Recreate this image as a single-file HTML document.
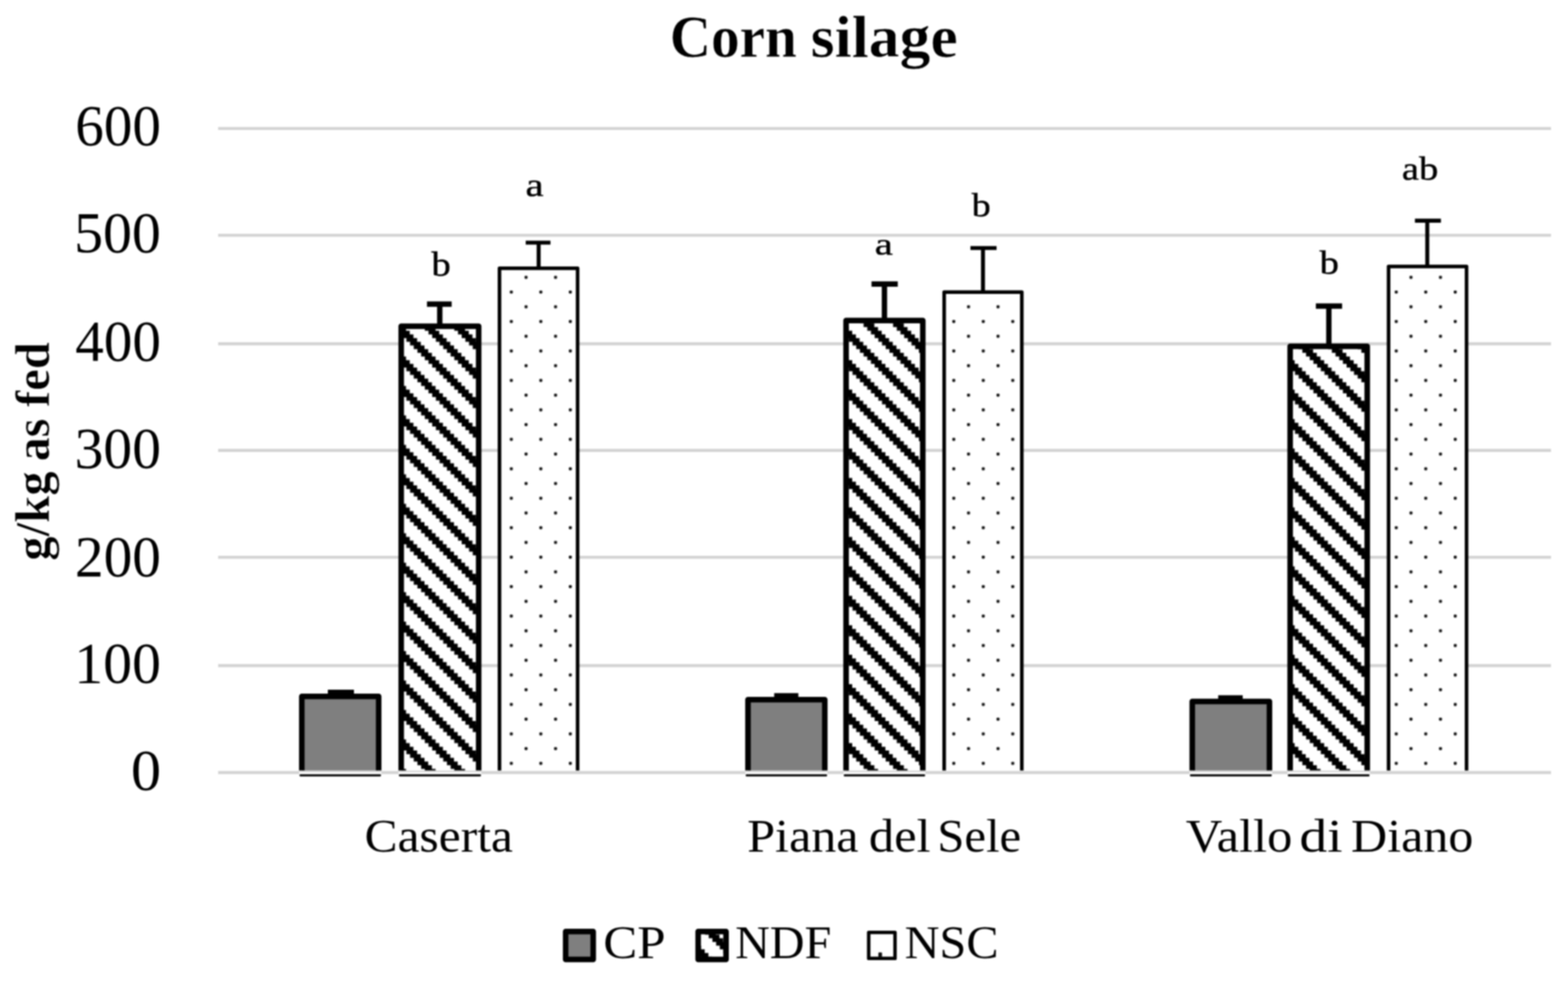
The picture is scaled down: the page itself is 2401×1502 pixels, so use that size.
<!DOCTYPE html>
<html lang="en">
<head>
<meta charset="utf-8">
<title>Corn silage</title>
<style>
html,body{margin:0;padding:0;background:#fff;}
body{width:2401px;height:1502px;overflow:hidden;}
svg{display:block;font-family:"Liberation Serif","DejaVu Serif",serif;}
text{fill:#000;}
</style>
</head>
<body>
<svg width="2401" height="1502" viewBox="0 0 2401 1502">
<defs>
<filter id="soft" x="0" y="0" width="2401" height="1502" filterUnits="userSpaceOnUse" color-interpolation-filters="sRGB"><feGaussianBlur stdDeviation="0.9"/></filter>

<pattern id="pStripe" patternUnits="userSpaceOnUse" x="0.97" y="-0.99" width="45.168" height="45.100"><rect width="45.168" height="45.100" fill="#fff"/><g fill="#000"><polygon points="22.33,-5.64 22.33,0.00 27.98,0.00 27.98,5.64 33.63,5.64 33.63,11.28 39.27,11.28 39.27,16.91 44.92,16.91 44.92,22.55 50.56,22.55 50.56,28.19 56.21,28.19 56.21,33.83 61.86,33.83 61.86,39.46 67.50,39.46 67.50,45.10 73.15,45.10 73.15,50.74 56.71,50.74 56.71,45.10 51.06,45.10 51.06,39.46 45.42,39.46 45.42,33.83 39.77,33.83 39.77,28.19 34.13,28.19 34.13,22.55 28.48,22.55 28.48,16.91 22.83,16.91 22.83,11.28 17.19,11.28 17.19,5.64 11.54,5.64 11.54,0.00 5.90,0.00 5.90,-5.64"/><polygon points="-22.83,-5.64 -22.83,0.00 -17.19,0.00 -17.19,5.64 -11.54,5.64 -11.54,11.28 -5.90,11.28 -5.90,16.91 -0.25,16.91 -0.25,22.55 5.40,22.55 5.40,28.19 11.04,28.19 11.04,33.83 16.69,33.83 16.69,39.46 22.33,39.46 22.33,45.10 27.98,45.10 27.98,50.74 11.54,50.74 11.54,45.10 5.90,45.10 5.90,39.46 0.25,39.46 0.25,33.83 -5.40,33.83 -5.40,28.19 -11.04,28.19 -11.04,22.55 -16.69,22.55 -16.69,16.91 -22.33,16.91 -22.33,11.28 -27.98,11.28 -27.98,5.64 -33.63,5.64 -33.63,0.00 -39.27,0.00 -39.27,-5.64"/><polygon points="67.50,-5.64 67.50,0.00 73.15,0.00 73.15,5.64 78.79,5.64 78.79,11.28 84.44,11.28 84.44,16.91 90.09,16.91 90.09,22.55 95.73,22.55 95.73,28.19 101.38,28.19 101.38,33.83 107.02,33.83 107.02,39.46 112.67,39.46 112.67,45.10 118.32,45.10 118.32,50.74 101.88,50.74 101.88,45.10 96.23,45.10 96.23,39.46 90.59,39.46 90.59,33.83 84.94,33.83 84.94,28.19 79.29,28.19 79.29,22.55 73.65,22.55 73.65,16.91 68.00,16.91 68.00,11.28 62.36,11.28 62.36,5.64 56.71,5.64 56.71,0.00 51.06,0.00 51.06,-5.64"/></g></pattern>
<pattern id="pDot" patternUnits="userSpaceOnUse" x="0.97" y="-0.99" width="45.168" height="45.100"><rect width="45.168" height="45.100" fill="#fff"/><g fill="#111"><rect x="11.815" y="39.981" width="4.6" height="4.6" rx="1.4"/><rect x="34.399" y="17.431" width="4.6" height="4.6" rx="1.4"/></g></pattern>
</defs>
<rect width="100%" height="100%" fill="#fff"/>
<g filter="url(#soft)">
<g stroke="#d3d3d3" stroke-width="4.6" fill="none">
<line x1="334" y1="196.7" x2="2375" y2="196.7"/>
<line x1="334" y1="360.3" x2="2375" y2="360.3"/>
<line x1="334" y1="526.4" x2="2375" y2="526.4"/>
<line x1="334" y1="689.6" x2="2375" y2="689.6"/>
<line x1="334" y1="853.3" x2="2375" y2="853.3"/>
<line x1="334" y1="1019.1" x2="2375" y2="1019.1"/>
</g>
<g stroke="#000" stroke-linejoin="round" stroke-linecap="butt">
<rect x="462.15" y="1066.25" width="117.70" height="113.55" fill="#7f7f7f" stroke="none"/>
<path d="M462.15 1179.80V1066.25H579.85V1179.80" fill="none" stroke-width="8.5"/>
<rect x="614.35" y="499.55" width="118.60" height="680.25" fill="url(#pStripe)" stroke="none"/>
<path d="M614.35 1179.80V499.55H732.95V1179.80" fill="none" stroke-width="8.5"/>
<rect x="764.85" y="410.65" width="119.60" height="769.15" fill="url(#pDot)" stroke="none"/>
<path d="M764.85 1179.80V410.65H884.45V1179.80" fill="none" stroke-width="5.5"/>
<rect x="1145.35" y="1071.35" width="117.60" height="108.45" fill="#7f7f7f" stroke="none"/>
<path d="M1145.35 1179.80V1071.35H1262.95V1179.80" fill="none" stroke-width="8.5"/>
<rect x="1295.55" y="490.85" width="117.50" height="688.95" fill="url(#pStripe)" stroke="none"/>
<path d="M1295.55 1179.80V490.85H1413.05V1179.80" fill="none" stroke-width="8.5"/>
<rect x="1445.75" y="447.25" width="118.90" height="732.55" fill="url(#pDot)" stroke="none"/>
<path d="M1445.75 1179.80V447.25H1564.65V1179.80" fill="none" stroke-width="5.5"/>
<rect x="1825.65" y="1074.05" width="118.20" height="105.75" fill="#7f7f7f" stroke="none"/>
<path d="M1825.65 1179.80V1074.05H1943.85V1179.80" fill="none" stroke-width="8.5"/>
<rect x="1975.55" y="530.15" width="118.00" height="649.65" fill="url(#pStripe)" stroke="none"/>
<path d="M1975.55 1179.80V530.15H2093.55V1179.80" fill="none" stroke-width="8.5"/>
<rect x="2126.25" y="408.05" width="119.40" height="771.75" fill="url(#pDot)" stroke="none"/>
<path d="M2126.25 1179.80V408.05H2245.65V1179.80" fill="none" stroke-width="5.5"/>
</g>
<g stroke="#000" fill="none" stroke-linecap="butt">
<path d="M522.00 1063.00V1060.00M502.00 1060.00H542.00" stroke-width="8.2"/>
<path d="M673.40 496.30V465.70M653.80 465.70H691.60" stroke-width="8.2"/>
<path d="M824.80 408.90V371.50M805.00 371.50H842.90" stroke-width="6.1"/>
<path d="M1204.00 1068.10V1065.30M1185.50 1065.30H1222.50" stroke-width="8.2"/>
<path d="M1354.30 487.60V434.90M1334.50 434.90H1374.70" stroke-width="8.2"/>
<path d="M1505.20 445.50V379.80M1486.00 379.80H1526.00" stroke-width="6.1"/>
<path d="M1884.20 1070.80V1068.50M1865.40 1068.50H1902.90" stroke-width="8.2"/>
<path d="M2034.80 526.90V468.70M2014.90 468.70H2055.10" stroke-width="8.2"/>
<path d="M2185.50 406.30V337.90M2166.60 337.90H2206.40" stroke-width="6.1"/>
</g>
<line x1="334" y1="1182.9" x2="2375" y2="1182.9" stroke="#d3d3d3" stroke-width="4.6"/>
<rect x="458.20" y="1179.90" width="125.60" height="5.6" fill="#fff"/>
<rect x="458.20" y="1179.90" width="125.60" height="2.2" fill="#d2d2d2"/>
<rect x="458.70" y="1185.40" width="124.60" height="3.3" rx="1.2" fill="#000"/>
<rect x="610.40" y="1179.90" width="126.50" height="5.6" fill="#fff"/>
<rect x="610.40" y="1179.90" width="126.50" height="2.2" fill="#d2d2d2"/>
<rect x="610.90" y="1185.40" width="125.50" height="3.3" rx="1.2" fill="#000"/>
<rect x="1141.40" y="1179.90" width="125.50" height="5.6" fill="#fff"/>
<rect x="1141.40" y="1179.90" width="125.50" height="2.2" fill="#d2d2d2"/>
<rect x="1141.90" y="1185.40" width="124.50" height="3.3" rx="1.2" fill="#000"/>
<rect x="1291.60" y="1179.90" width="125.40" height="5.6" fill="#fff"/>
<rect x="1291.60" y="1179.90" width="125.40" height="2.2" fill="#d2d2d2"/>
<rect x="1292.10" y="1185.40" width="124.40" height="3.3" rx="1.2" fill="#000"/>
<rect x="1821.70" y="1179.90" width="126.10" height="5.6" fill="#fff"/>
<rect x="1821.70" y="1179.90" width="126.10" height="2.2" fill="#d2d2d2"/>
<rect x="1822.20" y="1185.40" width="125.10" height="3.3" rx="1.2" fill="#000"/>
<rect x="1971.60" y="1179.90" width="125.90" height="5.6" fill="#fff"/>
<rect x="1971.60" y="1179.90" width="125.90" height="2.2" fill="#d2d2d2"/>
<rect x="1972.10" y="1185.40" width="124.90" height="3.3" rx="1.2" fill="#000"/>
<rect x="866.15" y="1426.25" width="42.20" height="42.70" fill="#7f7f7f" stroke="#000" stroke-width="8.5" stroke-linejoin="round"/>
<rect x="1069.05" y="1426.25" width="42.70" height="42.70" fill="url(#pStripe)" stroke="#000" stroke-width="8.5" stroke-linejoin="round"/>
<rect x="1330.2" y="1427.7" width="40.3" height="39.7" fill="#fff" stroke="#000" stroke-width="5.3" stroke-linejoin="round"/>
<rect x="1345.0" y="1458.2" width="5.6" height="7.5" rx="1.2" fill="#111"/>
<g>
<text y="87.00" font-size="91.60" font-weight="bold" stroke="#fff" stroke-width="0.7" paint-order="fill stroke" xml:space="preserve"><tspan x="1025.41" textLength="194.89" lengthAdjust="spacingAndGlyphs">Corn</tspan> <tspan x="1241.27" textLength="225.26" lengthAdjust="spacingAndGlyphs">silage</tspan></text>
<text transform="rotate(-90)" y="74.90" font-size="74.00" font-weight="bold" stroke="#fff" stroke-width="0.7" paint-order="fill stroke" xml:space="preserve"><tspan x="-858.46" textLength="136.73" lengthAdjust="spacingAndGlyphs">g/kg</tspan> <tspan x="-706.31" textLength="65.49" lengthAdjust="spacingAndGlyphs">as</tspan> <tspan x="-623.17" textLength="99.45" lengthAdjust="spacingAndGlyphs">fed</tspan></text>
<text transform="translate(115.27 222.12) scale(0.9917 1)" font-size="88.15" font-weight="normal">600</text>
<text transform="translate(113.38 385.92) scale(1.0064 1)" font-size="88.15" font-weight="normal">500</text>
<text transform="translate(115.35 551.82) scale(0.9894 1)" font-size="88.30" font-weight="normal">400</text>
<text transform="translate(114.30 715.82) scale(0.9976 1)" font-size="88.30" font-weight="normal">300</text>
<text transform="translate(114.75 882.12) scale(0.9958 1)" font-size="88.15" font-weight="normal">200</text>
<text transform="translate(113.74 1045.22) scale(1.0036 1)" font-size="88.15" font-weight="normal">100</text>
<text transform="translate(200.40 1208.82) scale(1.0463 1)" font-size="88.30" font-weight="normal">0</text>
<text transform="translate(558.17 1303.98) scale(1.0509 1)" font-size="72.09" font-weight="normal">Caserta</text>
<text y="1304.00" font-size="71.50" font-weight="normal" xml:space="preserve"><tspan x="1144.20" textLength="170.40" lengthAdjust="spacingAndGlyphs">Piana</tspan> <tspan x="1330.60" textLength="94.38" lengthAdjust="spacingAndGlyphs">del</tspan> <tspan x="1435.35" textLength="128.38" lengthAdjust="spacingAndGlyphs">Sele</tspan></text>
<text y="1304.00" font-size="71.50" font-weight="normal" xml:space="preserve"><tspan x="1815.83" textLength="163.14" lengthAdjust="spacingAndGlyphs">Vallo</tspan> <tspan x="1989.83" textLength="66.09" lengthAdjust="spacingAndGlyphs">di</tspan> <tspan x="2068.80" textLength="187.28" lengthAdjust="spacingAndGlyphs">Diano</tspan></text>
<text transform="translate(923.68 1467.19) scale(1.0944 1)" font-size="71.34" font-weight="normal">CP</text>
<text transform="translate(1125.69 1467.30) scale(1.0278 1)" font-size="71.60" font-weight="normal">NDF</text>
<text transform="translate(1385.18 1467.38) scale(1.0319 1)" font-size="71.64" font-weight="normal">NSC</text>
<text transform="translate(660.70 422.18) scale(1.1329 1)" font-size="52.00" font-weight="normal" stroke="#000" stroke-width="0.6">b</text>
<text transform="translate(804.82 300.29) scale(1.2326 1)" font-size="50.53" font-weight="normal" stroke="#000" stroke-width="0.6">a</text>
<text transform="translate(1339.62 390.41) scale(1.2642 1)" font-size="49.26" font-weight="normal" stroke="#000" stroke-width="0.6">a</text>
<text transform="translate(1488.10 331.49) scale(1.1478 1)" font-size="50.57" font-weight="normal" stroke="#000" stroke-width="0.6">b</text>
<text transform="translate(2020.70 418.69) scale(1.1649 1)" font-size="50.57" font-weight="normal" stroke="#000" stroke-width="0.6">b</text>
<text transform="translate(2146.84 275.39) scale(1.1453 1)" font-size="51.29" font-weight="normal" stroke="#000" stroke-width="0.6">ab</text>
</g>
</g>
</svg>
</body>
</html>
